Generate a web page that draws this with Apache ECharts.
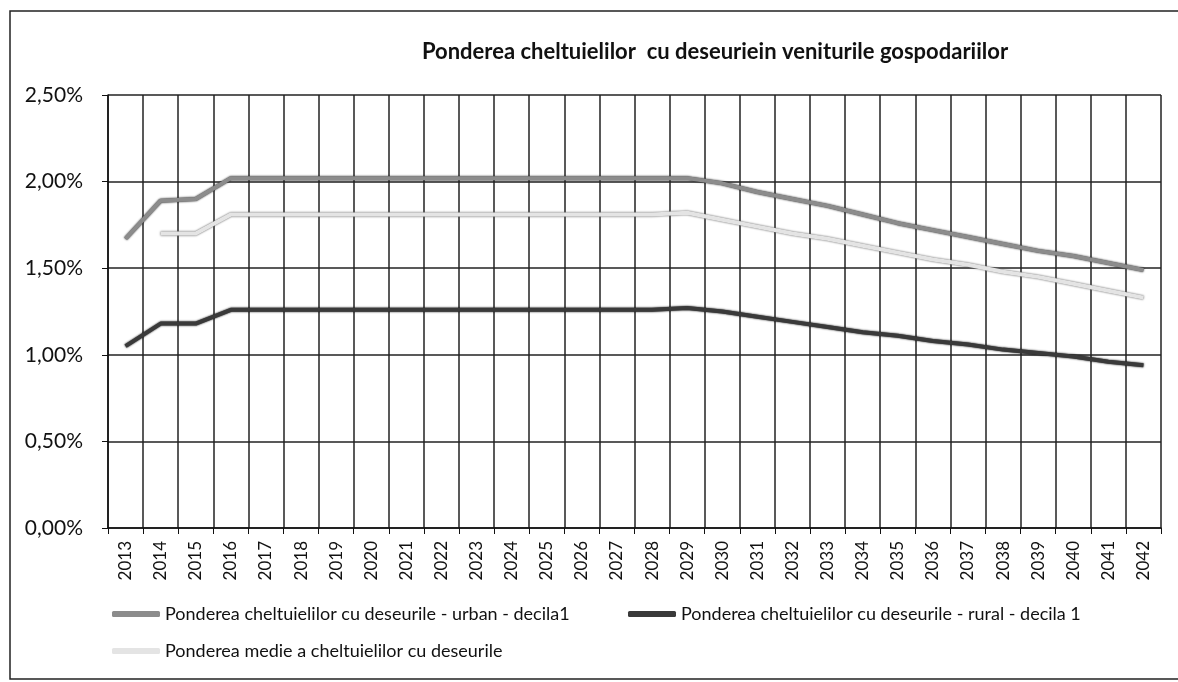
<!DOCTYPE html>
<html>
<head>
    <meta charset="utf-8">
    <title>Ponderea cheltuielilor cu deseurile</title>
    <script src="https://cdn.jsdelivr.net/npm/echarts@6.0.0/dist/echarts.min.js"></script>
    <style>
        html, body { margin: 0; padding: 0; background: #fff; }
        #main { width: 1178px; height: 682px; }
    </style>
</head>
<body>
<div id="main"></div>
<script type="text/javascript">
    // ani 2013 - 2042
    var ani = ['2013','2014','2015','2016','2017','2018','2019','2020','2021','2022',
        '2023','2024','2025','2026','2027','2028','2029','2030','2031','2032',
        '2033','2034','2035','2036','2037','2038','2039','2040','2041','2042'];

    // valori in procente
    var urban = [1.67, 1.89, 1.90, 2.02, 2.02, 2.02, 2.02, 2.02, 2.02, 2.02,
        2.02, 2.02, 2.02, 2.02, 2.02, 2.02, 2.02, 1.99, 1.94, 1.90,
        1.86, 1.81, 1.76, 1.72, 1.68, 1.64, 1.60, 1.57, 1.53, 1.49];
    var rural = [1.05, 1.18, 1.18, 1.26, 1.26, 1.26, 1.26, 1.26, 1.26, 1.26,
        1.26, 1.26, 1.26, 1.26, 1.26, 1.26, 1.27, 1.25, 1.22, 1.19,
        1.16, 1.13, 1.11, 1.08, 1.06, 1.03, 1.01, 0.99, 0.96, 0.94];
    var medie = [null, 1.70, 1.70, 1.81, 1.81, 1.81, 1.81, 1.81, 1.81, 1.81,
        1.81, 1.81, 1.81, 1.81, 1.81, 1.81, 1.82, 1.78, 1.74, 1.70,
        1.67, 1.63, 1.59, 1.55, 1.52, 1.48, 1.45, 1.41, 1.37, 1.33];

    var numeUrban = 'Ponderea cheltuielilor cu deseurile - urban - decila1';
    var numeRural = 'Ponderea cheltuielilor cu deseurile - rural - decila 1';
    var numeMedie = 'Ponderea medie a cheltuielilor cu deseurile';

    var font = 'Lato, "Open Sans", sans-serif';

    var myChart = echarts.init(document.getElementById('main'));

    function legenda(nume, left, top) {
        return {
            data: [nume],
            left: left,
            top: top,
            padding: 0,
            itemWidth: 48,
            itemHeight: 6,
            icon: 'roundRect',
            textStyle: { fontFamily: font, fontSize: 18, color: '#111', padding: [0, 0, 0, 0] }
        };
    }

    myChart.setOption({
        animation: false,
        backgroundColor: '#fff',
        title: {
            text: 'Ponderea cheltuielilor  cu deseuriein veniturile gospodariilor',
            left: 710,
            textAlign: 'center',
            top: 36,
            textStyle: { fontFamily: font, fontSize: 22, fontWeight: 'bold', color: '#111' }
        },
        graphic: [{
            type: 'rect',
            shape: { x: 10, y: 11, width: 1175, height: 668 },
            style: { fill: 'none', stroke: '#222', lineWidth: 1.5 },
            silent: true
        }],
        legend: [
            legenda(numeUrban, 112, 605),
            legenda(numeRural, 628, 605),
            legenda(numeMedie, 112, 642)
        ],
        grid: { left: 108, right: 17, top: 95, bottom: 154 },
        xAxis: {
            type: 'category',
            data: ani,
            boundaryGap: true,
            axisLine: { lineStyle: { color: '#111', width: 1.5 } },
            axisTick: { show: true, length: 6, lineStyle: { color: '#111' } },
            axisLabel: { rotate: 90, fontFamily: font, fontSize: 17, color: '#111', margin: 13 },
            splitLine: { show: true, lineStyle: { color: '#222', width: 1.5 } }
        },
        yAxis: {
            type: 'value',
            min: 0,
            max: 2.5,
            interval: 0.5,
            axisLine: { show: true, lineStyle: { color: '#111', width: 1.5 } },
            axisTick: { show: true, length: 6, lineStyle: { color: '#111' } },
            axisLabel: {
                fontFamily: font, fontSize: 21, color: '#111', margin: 25,
                formatter: function (v) { return v.toFixed(2).replace('.', ',') + '%'; }
            },
            splitLine: { show: true, lineStyle: { color: '#222', width: 1.5 } }
        },
        series: [
            {
                name: numeUrban,
                type: 'line',
                data: urban,
                symbol: 'none',
                itemStyle: { color: '#8c8c8c' },
                lineStyle: { color: '#8c8c8c', width: 4, shadowColor: '#111', shadowBlur: 2 }
            },
            {
                name: numeRural,
                type: 'line',
                data: rural,
                symbol: 'none',
                itemStyle: { color: '#3a3a3a' },
                lineStyle: { color: '#3a3a3a', width: 4, shadowColor: '#000', shadowBlur: 2 }
            },
            {
                name: numeMedie,
                type: 'line',
                data: medie,
                symbol: 'none',
                itemStyle: { color: '#e4e4e4' },
                lineStyle: { color: '#e4e4e4', width: 4, shadowColor: '#555', shadowBlur: 2 }
            }
        ]
    });
</script>
</body>
</html>
